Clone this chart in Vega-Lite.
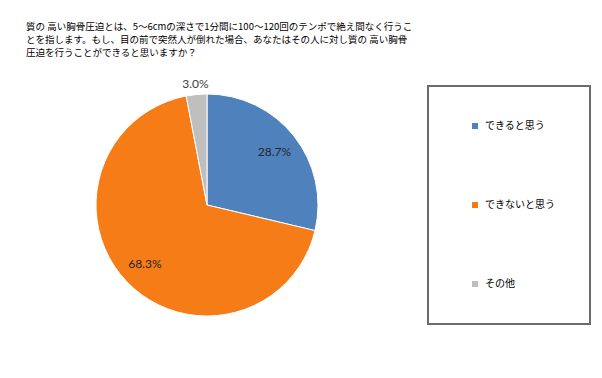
{
  "$schema": "https://vega.github.io/schema/vega-lite/v6.json",
  "width": 222,
  "height": 222,
  "autosize": {"type": "none"},
  "padding": {"left": 96, "top": 94, "right": 284, "bottom": 62},
  "background": "white",
  "title": {
    "text": [
      "質の 高い胸骨圧迫とは、5～6cmの深さで1分間に100～120回のテンポで絶え間なく行うこ",
      "とを指します。もし、目の前で突然人が倒れた場合、あなたはその人に対し質の 高い胸骨",
      "圧迫を行うことができると思いますか？"
    ],
    "anchor": "start",
    "frame": "group",
    "orient": "top",
    "font": "Noto Sans CJK JP",
    "fontSize": 9.5,
    "fontWeight": "normal",
    "color": "#000000",
    "lineHeight": 13,
    "dx": -70,
    "offset": 20
  },
  "data": {
    "values": [
      {"answer": "できると思う", "share": 0.287, "idx": 1},
      {"answer": "できないと思う", "share": 0.683, "idx": 2},
      {"answer": "その他", "share": 0.03, "idx": 3}
    ]
  },
  "encoding": {
    "theta": {"field": "share", "type": "quantitative", "stack": true},
    "order": {"field": "idx", "type": "quantitative"}
  },
  "layer": [
    {
      "mark": {"type": "arc", "stroke": "white", "strokeWidth": 1},
      "encoding": {
        "color": {
          "field": "answer",
          "type": "nominal",
          "scale": {
            "domain": ["できると思う", "できないと思う", "その他"],
            "range": ["#4F81BD", "#F57C16", "#BFBFBF"]
          },
          "legend": {
            "orient": "none",
            "legendX": 332,
            "legendY": -8,
            "title": null
          }
        }
      }
    },
    {
      "mark": {"type": "text", "radius": 86, "font": "Lato", "fontSize": 12, "color": "#262626"},
      "encoding": {
        "text": {
          "condition": {"test": "datum.share < 0.05", "value": ""},
          "field": "share", "type": "quantitative", "format": ".1%"
        }
      }
    },
    {
      "mark": {"type": "text", "radius": 122, "font": "Lato", "fontSize": 12, "color": "#404040"},
      "encoding": {
        "text": {
          "condition": {"test": "datum.share >= 0.05", "value": ""},
          "field": "share", "type": "quantitative", "format": ".1%"
        }
      }
    }
  ],
  "config": {
    "view": {"stroke": null},
    "legend": {
      "strokeColor": "#6b6b6b",
      "strokeWidth": 2,
      "fillColor": "white",
      "padding": 35,
      "rowPadding": 69,
      "symbolType": "square",
      "symbolSize": 36,
      "symbolStrokeWidth": 0,
      "symbolOffset": 7,
      "labelFont": "Noto Sans CJK JP",
      "labelFontSize": 10,
      "labelColor": "#000000",
      "labelOffset": 5
    }
  }
}
